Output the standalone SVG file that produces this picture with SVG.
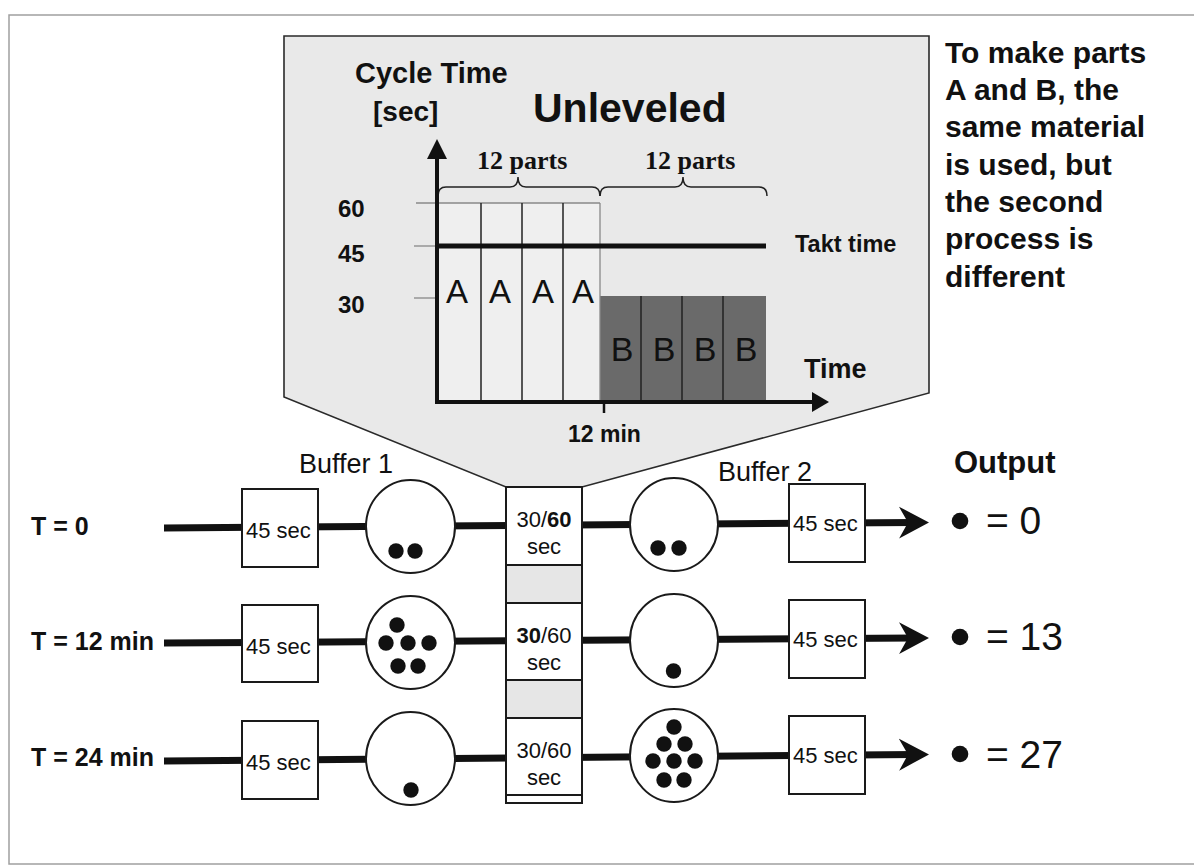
<svg xmlns="http://www.w3.org/2000/svg" width="1194" height="867" viewBox="0 0 1194 867">
<style>
text{font-family:"Liberation Sans",Arial,sans-serif;fill:#111}
.b{font-weight:bold}
.serif{font-family:"Liberation Serif","Times New Roman",serif;font-weight:bold}
.box{fill:#fff;stroke:#1a1a1a;stroke-width:2}
.circ{fill:#fff;stroke:#1a1a1a;stroke-width:2}
.dot{fill:#111}
.row{stroke:#111;stroke-width:7;fill:none}
.thin{stroke:#888;stroke-width:1.3}
.div{stroke:#222;stroke-width:1.5}
.bx{font-size:22px}
.mid{font-size:22px;text-anchor:middle}
.out{font-size:39px}
.tl{font-size:25px;font-weight:bold}
.para{font-size:30px;font-weight:bold}
</style>
<defs>
<marker id="arr" markerUnits="userSpaceOnUse" markerWidth="34" markerHeight="36" refX="16" refY="17" orient="auto">
<path d="M0,1 L30,17 L0,33 L9,17 Z" fill="#111"/>
</marker>
</defs>
<rect width="1194" height="867" fill="#fff"/>
<path d="M1194,15 H9 V864 H1194" fill="none" stroke="#a0a0a0" stroke-width="1.5"/>

<g id="callout">
<path d="M284,36 H929 V393 L582,487 L506,487 L284,397 Z" fill="#e9e9e9" stroke="#2a2a2a" stroke-width="1.6"/>
</g>

<g id="chart">
<text x="355" y="83" class="b" font-size="29">Cycle Time</text>
<text x="373" y="121" class="b" font-size="28">[sec]</text>
<text x="533" y="122" class="b" font-size="41">Unleveled</text>
<text x="477" y="169" class="serif" font-size="26">12 parts</text>
<text x="645" y="169" class="serif" font-size="26">12 parts</text>
<path d="M438,196 Q438,187 446,187 L510,187 Q518,187 518,177 Q518,187 526,187 L592,187 Q600,187 600,196" fill="none" stroke="#222" stroke-width="1.5"/>
<path d="M600,196 Q600,187 608,187 L675,187 Q683,187 683,177 Q683,187 691,187 L759,187 Q767,187 767,196" fill="none" stroke="#222" stroke-width="1.5"/>
<rect x="437" y="203" width="163" height="199" fill="#efefef"/>
<rect x="600" y="296" width="166" height="106" fill="#6a6a6a"/>
<line x1="416" y1="203" x2="600" y2="203" class="thin"/>
<line x1="600" y1="203" x2="600" y2="402" class="thin"/>
<line x1="414" y1="298" x2="437" y2="298" class="thin"/>
<line x1="414" y1="246" x2="437" y2="246" class="thin"/>
<line x1="481" y1="203" x2="481" y2="402" class="div"/>
<line x1="522" y1="203" x2="522" y2="402" class="div"/>
<line x1="563" y1="203" x2="563" y2="402" class="div"/>
<line x1="641" y1="296" x2="641" y2="402" class="div"/>
<line x1="682" y1="296" x2="682" y2="402" class="div"/>
<line x1="723" y1="296" x2="723" y2="402" class="div"/>
<line x1="437" y1="246" x2="766" y2="246" stroke="#111" stroke-width="5"/>
<g text-anchor="middle">
<g font-size="33"><text x="457" y="303">A</text><text x="500" y="303">A</text><text x="543" y="303">A</text><text x="583" y="303">A</text></g>
<g font-size="34"><text x="622" y="361">B</text><text x="664" y="361">B</text><text x="705" y="361">B</text><text x="746" y="361">B</text></g>
</g>
<line x1="437" y1="404" x2="437" y2="152" stroke="#111" stroke-width="4"/>
<path d="M437,139 L447,159 L427,159 Z" fill="#111"/>
<line x1="435" y1="402" x2="815" y2="402" stroke="#111" stroke-width="4"/>
<path d="M829,402 L812,392 L812,412 Z" fill="#111"/>
<line x1="604" y1="402" x2="604" y2="413" stroke="#111" stroke-width="2.5"/>
<text x="338" y="217" class="b" font-size="24">60</text>
<text x="338" y="262" class="b" font-size="24">45</text>
<text x="338" y="313" class="b" font-size="24">30</text>
<text x="795" y="252" class="b" font-size="23.5">Takt time</text>
<text x="804" y="378" class="b" font-size="27">Time</text>
<text x="568" y="442" class="b" font-size="23">12 min</text>
</g>

<g id="note">
<text class="para"><tspan x="945" y="63">To make parts</tspan><tspan x="945" y="100">A and B, the</tspan><tspan x="945" y="137">same material</tspan><tspan x="945" y="175">is used, but</tspan><tspan x="945" y="212">the second</tspan><tspan x="945" y="249">process is</tspan><tspan x="945" y="287">different</tspan></text>
</g>

<g id="headers">
<text x="299" y="473" font-size="27">Buffer 1</text>
<text x="718" y="481" font-size="27">Buffer 2</text>
<text x="954" y="473" class="b" font-size="31">Output</text>
</g>

<g id="connectors">
<line x1="164" y1="528" x2="915" y2="522.5" class="row" marker-end="url(#arr)"/>
<line x1="164" y1="643" x2="915" y2="638" class="row" marker-end="url(#arr)"/>
<line x1="164" y1="761" x2="915" y2="754.5" class="row" marker-end="url(#arr)"/>
</g>

<g id="time-labels">
<text x="31" y="535" class="tl">T = 0</text>
<text x="31" y="650" class="tl">T = 12 min</text>
<text x="31" y="766" class="tl">T = 24 min</text>
</g>

<g id="process1">
<rect x="242" y="489" width="76" height="78" class="box"/><text x="246" y="538" class="bx">45 sec</text>
<rect x="242" y="605" width="76" height="77" class="box"/><text x="246" y="654" class="bx">45 sec</text>
<rect x="242" y="721" width="76" height="78" class="box"/><text x="246" y="770" class="bx">45 sec</text>
</g>

<g id="buffer1">
<ellipse cx="410.5" cy="526.5" rx="44.5" ry="46.5" class="circ"/>
<circle cx="396" cy="551" r="7.7" class="dot"/><circle cx="415" cy="551" r="7.7" class="dot"/>
<ellipse cx="410.5" cy="642.5" rx="44.5" ry="46.5" class="circ"/>
<circle cx="397" cy="625" r="7.7" class="dot"/>
<circle cx="386" cy="643" r="7.7" class="dot"/><circle cx="408" cy="643" r="7.7" class="dot"/><circle cx="429" cy="643" r="7.7" class="dot"/>
<circle cx="398" cy="666" r="7.7" class="dot"/><circle cx="418" cy="666" r="7.7" class="dot"/>
<ellipse cx="410.5" cy="758.5" rx="44.5" ry="46.5" class="circ"/>
<circle cx="411" cy="790" r="7.7" class="dot"/>
</g>

<g id="process2">
<rect x="506" y="487" width="76" height="316" fill="#e6e6e6" stroke="#1a1a1a" stroke-width="2"/>
<rect x="506" y="487" width="76" height="78" class="box"/>
<rect x="506" y="603" width="76" height="77" class="box"/>
<rect x="506" y="718" width="76" height="77" class="box"/>
<rect x="506" y="795" width="76" height="8" class="box"/>
<text x="544" y="527" class="mid">30/<tspan class="b">60</tspan></text><text x="544" y="554" class="mid">sec</text>
<text x="544" y="643" class="mid"><tspan class="b">30</tspan>/60</text><text x="544" y="670" class="mid">sec</text>
<text x="544" y="758" class="mid">30/60</text><text x="544" y="785" class="mid">sec</text>
</g>

<g id="buffer2">
<ellipse cx="674" cy="524.5" rx="44" ry="46.5" class="circ"/>
<circle cx="658" cy="548" r="7.7" class="dot"/><circle cx="679" cy="548" r="7.7" class="dot"/>
<ellipse cx="674" cy="640.5" rx="44" ry="46.5" class="circ"/>
<circle cx="673.5" cy="671" r="7.7" class="dot"/>
<ellipse cx="674" cy="755.5" rx="44" ry="46.5" class="circ"/>
<circle cx="674" cy="727" r="7.7" class="dot"/>
<circle cx="664" cy="744" r="7.7" class="dot"/><circle cx="685" cy="744" r="7.7" class="dot"/>
<circle cx="653" cy="761" r="7.7" class="dot"/><circle cx="674" cy="761" r="7.7" class="dot"/><circle cx="695" cy="761" r="7.7" class="dot"/>
<circle cx="664" cy="780" r="7.7" class="dot"/><circle cx="684" cy="780" r="7.7" class="dot"/>
</g>

<g id="process3">
<rect x="789" y="484" width="76" height="78" class="box"/><text x="793" y="531" class="bx">45 sec</text>
<rect x="789" y="600" width="76" height="78" class="box"/><text x="793" y="647" class="bx">45 sec</text>
<rect x="789" y="716" width="76" height="78" class="box"/><text x="793" y="763" class="bx">45 sec</text>
</g>

<g id="output">
<circle cx="960" cy="521" r="8.3" class="dot"/><text x="986" y="534" class="out">= 0</text>
<circle cx="960" cy="637" r="8.3" class="dot"/><text x="986" y="650" class="out">= 13</text>
<circle cx="960" cy="754" r="8.3" class="dot"/><text x="986" y="768" class="out">= 27</text>
</g>
</svg>
